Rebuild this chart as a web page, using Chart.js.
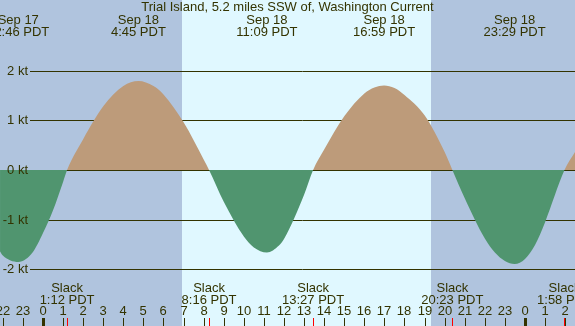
<!DOCTYPE html>
<html>
<head>
<meta charset="utf-8">
<script src="https://cdn.jsdelivr.net/npm/chart.js@4"></script>
<style>
html,body{margin:0;padding:0;background:#B0C4DE;}
#wrap{width:575px;height:326px;position:relative;}
</style>
</head>
<body>
<div id="wrap"><canvas id="c" width="575" height="326"></canvas></div>
<script>
// ---- Data (hours relative to Sep 18 00:00 PDT, current in knots) ----
const times  = [-2.14, -2, -1.233, -0.5, 0, 0.5, 1, 1.2, 2, 3, 4, 4.75, 5.5, 6, 7, 8, 8.267, 9, 10, 10.5, 11.15, 11.75, 12, 13, 13.45, 14, 15, 16, 16.5, 16.983, 17.5, 18, 19, 20, 20.383, 21, 22, 22.5, 23, 23.483, 24, 24.5, 25, 25.967, 26.5];
const speeds = [-1.64, -1.72, -1.85, -1.65, -1.27, -0.81, -0.24, 0, 0.62, 1.28, 1.69, 1.79, 1.69, 1.52, 0.96, 0.21, 0, -0.64, -1.34, -1.56, -1.66, -1.52, -1.39, -0.50, 0, 0.41, 1.08, 1.54, 1.66, 1.70, 1.65, 1.51, 1.10, 0.36, 0, -0.57, -1.38, -1.66, -1.83, -1.89, -1.79, -1.51, -1.05, 0, 0.37];

const extremeTimes  = [-1.233, 4.75, 11.15, 16.983, 23.483];
const extremeDays   = ['Sep 17', 'Sep 18', 'Sep 18', 'Sep 18', 'Sep 18'];
const extremeLabels = ['22:46 PDT', '4:45 PDT', '11:09 PDT', '16:59 PDT', '23:29 PDT'];

const slackTimes  = [1.2, 8.267, 13.45, 20.383, 25.967];
const slackLabels = ['1:12 PDT', '8:16 PDT', '13:27 PDT', '20:23 PDT', '1:58 PDT'];

const hourTicks  = [-2, -1, 0, 1, 2, 3, 4, 5, 6, 7, 8, 9, 10, 11, 12, 13, 14, 15, 16, 17, 18, 19, 20, 21, 22, 23, 24, 25, 26];
const hourLabels = ['22','23','0','1','2','3','4','5','6','7','8','9','10','11','12','13','14','15','16','17','18','19','20','21','22','23','0','1','2'];
const midnightTicks = [0, 24];

const ktTicks  = [2, 1, 0, -1, -2];
const ktLabels = ['2 kt', '1 kt', '0 kt', '-1 kt', '-2 kt'];

const daylight = [6.92, 19.32]; // sunrise, sunset
const title = 'Trial Island, 5.2 miles SSW of, Washington Current';

// ---- Style ----
const NIGHT = '#B0C4DE', DAY = '#E0F8FF', FLOOD = '#BD9B7A', EBB = '#50956F';
const INK = '#333300', FONT = '13px "Liberation Sans", Arial, sans-serif';

const decor = {
  id: 'decor',
  beforeDraw(chart) {
    const {ctx, scales: {x}} = chart;
    ctx.save();
    ctx.fillStyle = NIGHT;
    ctx.fillRect(0, 0, chart.width, chart.height);
    ctx.fillStyle = DAY;
    const x0 = Math.round(x.getPixelForValue(daylight[0]));
    const x1 = Math.round(x.getPixelForValue(daylight[1]));
    ctx.fillRect(x0, 0, x1 - x0, chart.height);
    ctx.restore();
  },
  beforeDatasetsDraw(chart) {
    const {ctx, scales: {y}} = chart;
    ctx.save();
    ctx.strokeStyle = INK;
    ctx.lineWidth = 1;
    ktTicks.forEach(v => {
      const py = Math.round(y.getPixelForValue(v)) + 0.5;
      ctx.beginPath();
      ctx.moveTo(30, py);
      ctx.lineTo(chart.width, py);
      ctx.stroke();
    });
    ctx.restore();
  },
  afterDatasetsDraw(chart) {
    const {ctx, scales: {x, y}} = chart;
    ctx.save();
    ctx.fillStyle = INK;
    ctx.font = FONT;
    ctx.textAlign = 'right';
    ctx.textBaseline = 'middle';
    ktTicks.forEach((v, i) => {
      const py = Math.round(y.getPixelForValue(v)) + 0.5;
      ctx.fillText(ktLabels[i], 28, py);
    });
    ctx.textAlign = 'center';
    ctx.textBaseline = 'alphabetic';
    ctx.fillText(title, chart.width / 2, 11);
    extremeTimes.forEach((t, i) => {
      const px = x.getPixelForValue(t);
      ctx.fillText(extremeDays[i], px, 24);
      ctx.fillText(extremeLabels[i], px, 36);
    });
    slackTimes.forEach((t, i) => {
      const px = x.getPixelForValue(t);
      ctx.fillText('Slack', px, 292);
      ctx.fillText(slackLabels[i], px, 304);
    });
    hourTicks.forEach((h, i) => {
      const px = Math.round(x.getPixelForValue(h));
      ctx.fillStyle = INK;
      ctx.fillText(hourLabels[i], px, 315);
      if (midnightTicks.includes(h)) {
        ctx.fillRect(px - 1, 318, 3, 8);
      } else {
        ctx.fillRect(px, 318, 1, 8);
      }
    });
    ctx.fillStyle = '#FF0000';
    slackTimes.forEach(t => {
      const px = Math.round(x.getPixelForValue(t));
      ctx.fillRect(px, 318, 1, 8);
    });
    ctx.restore();
  }
};

new Chart(document.getElementById('c'), {
  type: 'line',
  data: {
    datasets: [{
      data: times.map((t, i) => ({x: t, y: speeds[i]})),
      borderWidth: 0,
      borderColor: 'rgba(0,0,0,0)',
      pointRadius: 0,
      cubicInterpolationMode: 'monotone',
      fill: {target: 'origin', above: FLOOD, below: EBB}
    }]
  },
  options: {
    responsive: false,
    animation: false,
    events: [],
    layout: {padding: 0},
    plugins: {legend: {display: false}, tooltip: {enabled: false}, title: {display: false}},
    scales: {
      x: {type: 'linear', min: -2.141, max: 26.49, display: false},
      y: {type: 'linear', min: -3.14, max: 3.42, display: false}
    }
  },
  plugins: [decor]
});
</script>
</body>
</html>
